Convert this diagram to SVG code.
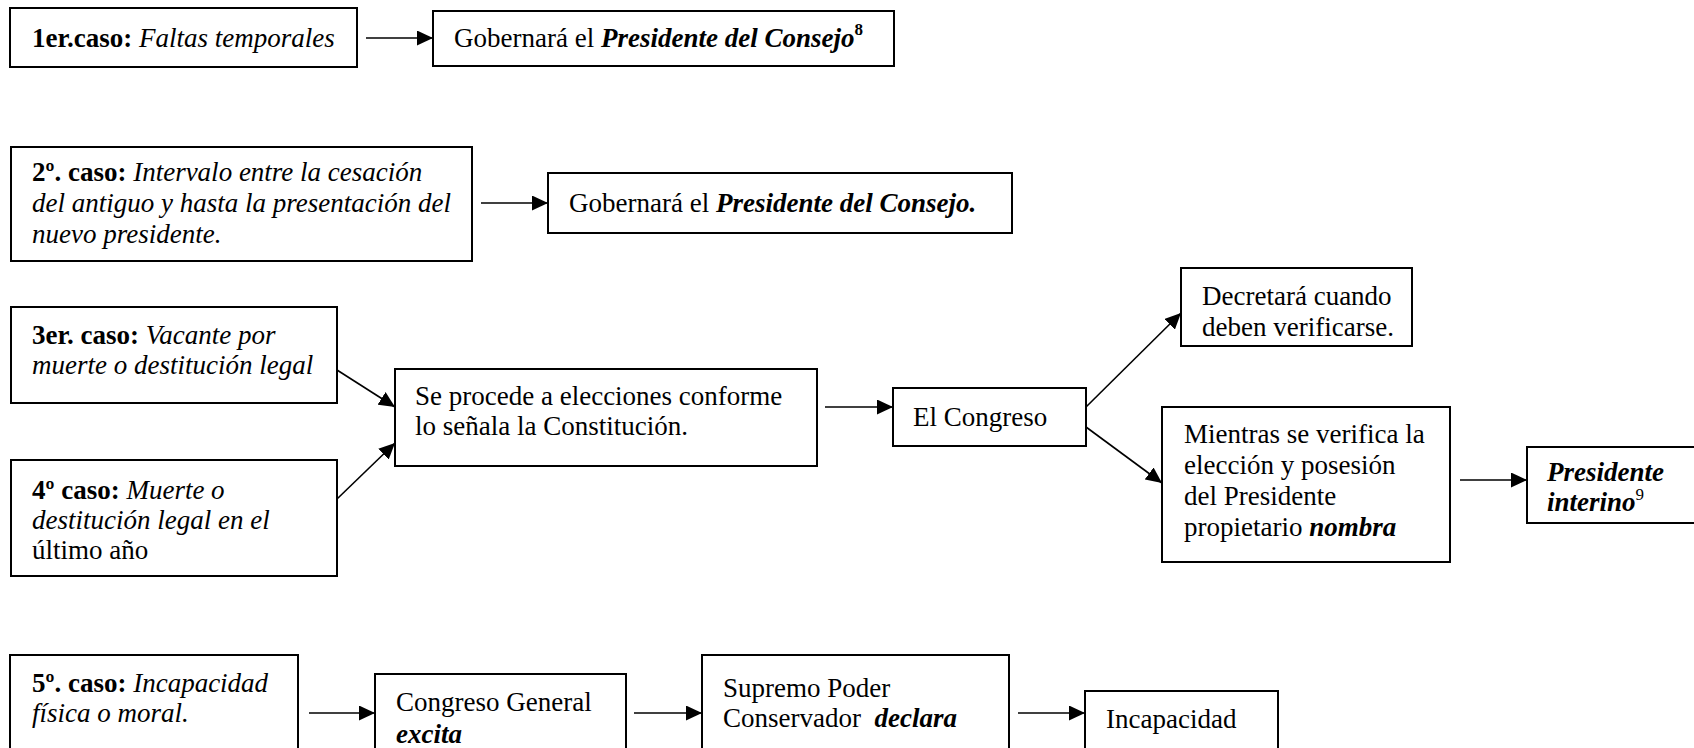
<svg xmlns="http://www.w3.org/2000/svg" width="1694" height="748" viewBox="0 0 1694 748">
<style>
  .box{fill:#fff;stroke:#000;stroke-width:2}
  .t{font-family:"Liberation Serif","Times New Roman",serif;font-size:27px;fill:#000}
  .b{font-weight:bold}
  .i{font-style:italic}
  .sup{font-size:17px}
  .c{stroke:#000;stroke-width:1.6;fill:none;marker-end:url(#ah)}
</style>
<defs>
  <marker id="ah" markerUnits="userSpaceOnUse" markerWidth="17" markerHeight="15" refX="16" refY="7.5" orient="auto">
    <path d="M0,0 L16,7.5 L0,15 z" fill="#000"/>
  </marker>
</defs>
<rect width="1694" height="748" fill="#fff"/>

<g id="connectors">
  <line class="c" x1="366" y1="38" x2="433" y2="38"/>
  <line class="c" x1="481" y1="203" x2="548" y2="203"/>
  <line class="c" x1="337" y1="370" x2="395" y2="407"/>
  <line class="c" x1="337" y1="499" x2="395" y2="443"/>
  <line class="c" x1="825" y1="407" x2="893" y2="407"/>
  <line class="c" x1="1086" y1="407" x2="1181" y2="313"/>
  <line class="c" x1="1086" y1="427" x2="1162" y2="483"/>
  <line class="c" x1="1460" y1="480" x2="1527" y2="480"/>
  <line class="c" x1="309" y1="713" x2="375" y2="713"/>
  <line class="c" x1="634" y1="713" x2="702" y2="713"/>
  <line class="c" x1="1018" y1="713" x2="1085" y2="713"/>
</g>

<g id="caso1">
  <rect class="box" x="10" y="8" width="347" height="59"/>
  <text class="t" x="32" y="47"><tspan class="b">1er.caso:</tspan> <tspan class="i">Faltas temporales</tspan></text>
</g>
<g id="gobernara1">
  <rect class="box" x="433" y="11" width="461" height="55"/>
  <text class="t" x="454" y="47">Gobernará el <tspan class="b i">Presidente del Consejo</tspan><tspan class="b sup" dy="-12">8</tspan></text>
</g>

<g id="caso2">
  <rect class="box" x="11" y="147" width="461" height="114"/>
  <text class="t" x="32" y="181"><tspan class="b">2º. caso:</tspan> <tspan class="i">Intervalo entre la cesación</tspan></text>
  <text class="t i" x="32" y="212">del antiguo y hasta la presentación del</text>
  <text class="t i" x="32" y="243">nuevo presidente.</text>
</g>
<g id="gobernara2">
  <rect class="box" x="548" y="173" width="464" height="60"/>
  <text class="t" x="569" y="212">Gobernará el <tspan class="b i">Presidente del Consejo.</tspan></text>
</g>

<g id="caso3">
  <rect class="box" x="11" y="307" width="326" height="96"/>
  <text class="t" x="32" y="344"><tspan class="b">3er. caso:</tspan> <tspan class="i">Vacante por</tspan></text>
  <text class="t i" x="32" y="374">muerte o destitución legal</text>
</g>
<g id="caso4">
  <rect class="box" x="11" y="460" width="326" height="116"/>
  <text class="t" x="32" y="499"><tspan class="b">4º caso:</tspan> <tspan class="i">Muerte o</tspan></text>
  <text class="t i" x="32" y="529">destitución legal en el</text>
  <text class="t" x="32" y="559">último año</text>
</g>
<g id="elecciones">
  <rect class="box" x="395" y="369" width="422" height="97"/>
  <text class="t" x="415" y="405">Se procede a elecciones conforme</text>
  <text class="t" x="415" y="435">lo señala la Constitución.</text>
</g>
<g id="congreso">
  <rect class="box" x="893" y="388" width="193" height="58"/>
  <text class="t" x="913" y="426">El Congreso</text>
</g>
<g id="decretara">
  <rect class="box" x="1181" y="268" width="231" height="78"/>
  <text class="t" x="1202" y="305">Decretará cuando</text>
  <text class="t" x="1202" y="336">deben verificarse.</text>
</g>
<g id="mientras">
  <rect class="box" x="1162" y="407" width="288" height="155"/>
  <text class="t" x="1184" y="443">Mientras se verifica la</text>
  <text class="t" x="1184" y="474">elección y posesión</text>
  <text class="t" x="1184" y="505">del Presidente</text>
  <text class="t" x="1184" y="536">propietario <tspan class="b i">nombra</tspan></text>
</g>
<g id="interino">
  <rect class="box" x="1527" y="447" width="180" height="76"/>
  <text class="t b i" x="1547" y="481">Presidente</text>
  <text class="t" x="1547" y="511"><tspan class="b i">interino</tspan><tspan class="sup" dy="-11">9</tspan></text>
</g>

<g id="caso5">
  <rect class="box" x="10" y="655" width="288" height="110"/>
  <text class="t" x="32" y="692"><tspan class="b">5º. caso:</tspan> <tspan class="i">Incapacidad</tspan></text>
  <text class="t i" x="32" y="722">física o moral.</text>
</g>
<g id="congresoGeneral">
  <rect class="box" x="375" y="674" width="251" height="90"/>
  <text class="t" x="396" y="711">Congreso General</text>
  <text class="t b i" x="396" y="743">excita</text>
</g>
<g id="supremo">
  <rect class="box" x="702" y="655" width="307" height="110"/>
  <text class="t" x="723" y="697">Supremo Poder</text>
  <text class="t" x="723" y="727">Conservador&#160; <tspan class="b i">declara</tspan></text>
</g>
<g id="incapacidad">
  <rect class="box" x="1085" y="691" width="193" height="70"/>
  <text class="t" x="1106" y="728">Incapacidad</text>
</g>
</svg>
